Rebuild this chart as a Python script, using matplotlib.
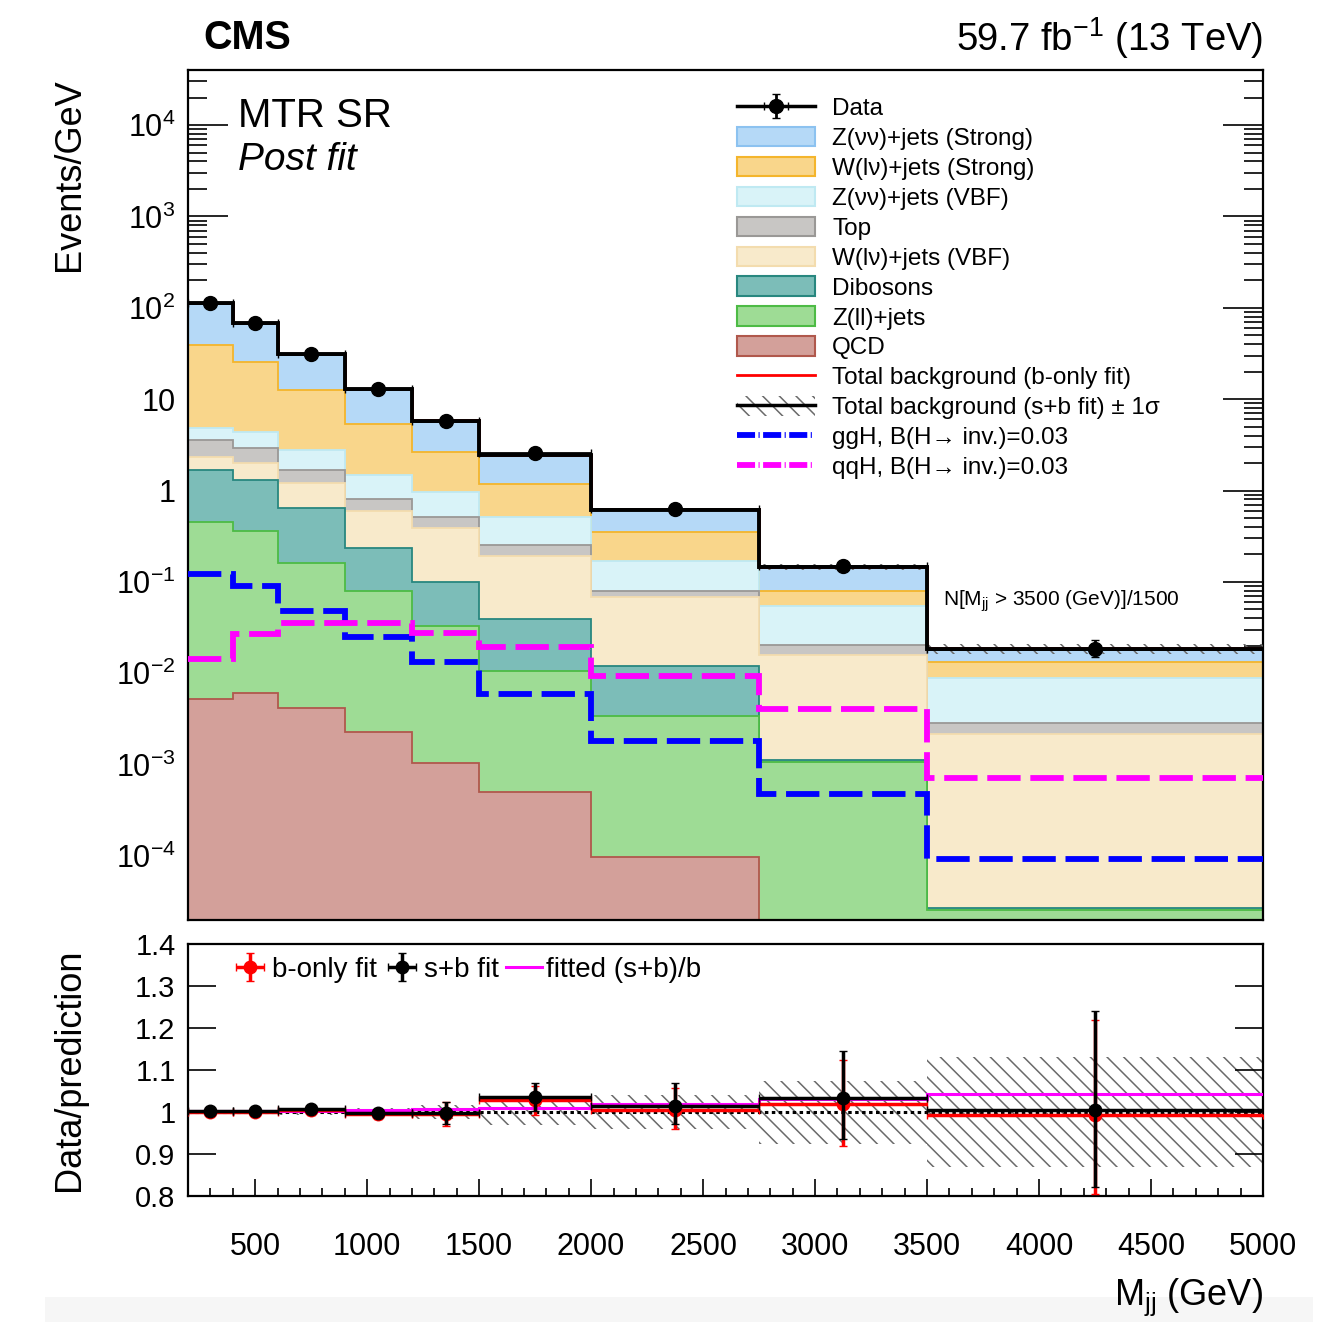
import numpy as np
import matplotlib
matplotlib.use('Agg')
import matplotlib.pyplot as plt
from matplotlib.patches import Patch, Rectangle
from matplotlib.lines import Line2D
from matplotlib.ticker import LogLocator, FuncFormatter, MultipleLocator, NullFormatter

plt.rcParams['font.family'] = ['Liberation Sans', 'DejaVu Sans']
plt.rcParams['mathtext.fontset'] = 'custom'
plt.rcParams['mathtext.rm'] = 'Liberation Sans'
plt.rcParams['mathtext.it'] = 'Liberation Sans:italic'
plt.rcParams['mathtext.bf'] = 'Liberation Sans:bold'
plt.rcParams['lines.scale_dashes'] = False
plt.rcParams['hatch.linewidth'] = 1.1

# ---------------- data ----------------
edges = np.array([200, 400, 600, 900, 1200, 1500, 2000, 2750, 3500, 5000])

# per-process post-fit yields (Events/GeV), stack order bottom -> top
qcd  = [0.0053, 0.0061, 0.0042, 0.0023, 0.00105, 0.0005, 0.000097, 0.0, 0.0]
zll  = [0.453, 0.359, 0.158, 0.0767, 0.0323, 0.0100, 0.00335, 0.00108, 0.000026]
dib  = [1.20, 0.935, 0.478, 0.155, 0.0657, 0.029, 0.00845, 0.00004, 0.000001]
wvbf = [0.70, 0.71, 0.57, 0.36, 0.291, 0.1515, 0.0573, 0.0148, 0.00215]
top  = [1.24, 0.89, 0.49, 0.206, 0.12, 0.064, 0.0113, 0.0046, 0.00069]
zvbf = [1.20, 1.45, 1.09, 0.68, 0.45, 0.265, 0.0905, 0.0337, 0.00606]
wstr = [34.5, 20.95, 9.81, 3.89, 1.66, 0.66, 0.179, 0.0263, 0.00453]
zstr = [72.7, 42.4, 18.7, 7.53, 3.21, 1.28, 0.27, 0.0645, 0.00508]

data = [112.2, 67.8, 31.5, 12.87, 5.82, 2.55, 0.629, 0.150, 0.0186]

ggh = [0.122, 0.091, 0.0487, 0.0248, 0.01324, 0.00596, 0.00181, 0.00048, 0.000093]
qqh = [0.0144, 0.027, 0.0353, 0.0353, 0.0275, 0.0193, 0.0093, 0.00409, 0.00071]

# ratio panel
ratio_sb    = [1.002, 1.002, 1.007, 0.998, 0.998, 1.035, 1.015, 1.033, 1.005]
ratio_sb_lo = [0.007, 0.008, 0.009, 0.010, 0.027, 0.033, 0.044, 0.098, 0.183]
ratio_sb_hi = [0.007, 0.008, 0.009, 0.010, 0.027, 0.033, 0.053, 0.112, 0.236]
ratio_b     = [0.999, 1.000, 1.004, 0.995, 0.995, 1.028, 1.005, 1.019, 0.993]
ratio_b_lo  = [0.008, 0.009, 0.010, 0.011, 0.028, 0.034, 0.045, 0.100, 0.188]
ratio_b_hi  = [0.008, 0.009, 0.010, 0.011, 0.028, 0.034, 0.052, 0.105, 0.226]
fitted_sb_over_b = [1.0012, 1.0018, 1.0027, 1.0047, 1.007, 1.010, 1.018, 1.031, 1.043]
unc_sb = [0.005, 0.005, 0.008, 0.010, 0.016, 0.030, 0.040, 0.075, 0.130]

# ---------------- figure ----------------
W, H = 1342, 1322
fig = plt.figure(figsize=(W / 100, H / 100), dpi=100)

def fx(px):
    return px / W

def fy(py):
    return 1 - py / H

ax = fig.add_axes([fx(188), fy(920), fx(1263) - fx(188), fy(70) - fy(920)])
axr = fig.add_axes([fx(188), fy(1196), fx(1263) - fx(188), fy(944) - fy(1196)])

fig.patches.append(Rectangle((fx(45), 0), fx(1313) - fx(45), fy(1297), transform=fig.transFigure,
                             facecolor='#f6f6f6', edgecolor='none', zorder=-5))

procs = [
    (qcd,  'QCD',                   '#d3a09a', '#b0584c'),
    (zll,  'Z(ll)+jets',            '#9edc95', '#4dbb45'),
    (dib,  'Dibosons',              '#7cbdb8', '#28877f'),
    (wvbf, 'W(lν)+jets (VBF)',      '#f8eacb', '#f3dcae'),
    (top,  'Top',                   '#c8c6c4', '#9a9896'),
    (zvbf, 'Z(νν)+jets (VBF)',      '#d9f3f8', '#bfe9f2'),
    (wstr, 'W(lν)+jets (Strong)',   '#f9d68b', '#f4b52c'),
    (zstr, 'Z(νν)+jets (Strong)',   '#b5d9f7', '#8cc2f0'),
]

cum = np.cumsum(np.array([p[0] for p in procs]), axis=0)
total = cum[-1]

# ROOT-like stack: draw from top cumulative to bottom, each filled from zero
for i in range(len(procs) - 1, -1, -1):
    _, lab, fc, ec = procs[i]
    ax.stairs(cum[i], edges, baseline=0, fill=True, facecolor=fc, edgecolor=ec, lw=1.3, zorder=2)

unc = np.array(unc_sb)
ax.stairs(total * (1 + unc), edges, baseline=total * (1 - unc), fill=True, facecolor='none',
          edgecolor='#6a6a6a', lw=0, hatch='\\\\', zorder=3)

data_arr = np.array(data)
btot = data_arr / np.array(ratio_b)
ax.stairs(btot, edges, baseline=None, color='red', lw=2.0, zorder=4)
ax.stairs(total, edges, baseline=None, color='black', lw=2.8, zorder=5)

dash = (0, (24, 7))
ax.stairs(ggh, edges, baseline=None, color='#0000ff', lw=4.2, linestyle=dash, zorder=6)
ax.stairs(qqh, edges, baseline=None, color='#ff00ff', lw=4.2, linestyle=dash, zorder=6)

centers = 0.5 * (edges[:-1] + edges[1:])
halfw = 0.5 * np.diff(edges)
rel_lo = np.array(ratio_sb_lo) / np.array(ratio_sb)
rel_hi = np.array(ratio_sb_hi) / np.array(ratio_sb)
data_eb = ax.errorbar(centers, data_arr, yerr=[data_arr * rel_lo, data_arr * rel_hi], xerr=halfw,
                      fmt='o', color='black', ms=10, lw=2, capsize=3, zorder=7)

ax.set_yscale('log')
ax.set_xlim(200, 5000)
ax.set_ylim(2e-5, 4e4)

def logfmt(v, pos):
    e = int(round(np.log10(v)))
    if e == 0:
        return '1'
    if e == 1:
        return '10'
    return r'$10^{%d}$' % e

ax.yaxis.set_major_locator(LogLocator(base=10, numticks=30))
ax.yaxis.set_minor_locator(LogLocator(base=10, subs=np.arange(2, 10), numticks=30))
ax.yaxis.set_major_formatter(FuncFormatter(logfmt))
ax.yaxis.set_minor_formatter(NullFormatter())
ax.xaxis.set_major_locator(MultipleLocator(500))
ax.xaxis.set_minor_locator(MultipleLocator(100))
ax.tick_params(axis='y', which='major', direction='in', length=29, width=1.2, right=True,
               labelsize=22, pad=9)
ax.tick_params(axis='y', which='minor', direction='in', length=14, width=1.2, right=True)
ax.tick_params(axis='x', which='major', direction='in', length=15, width=1.2, labelbottom=False)
ax.tick_params(axis='x', which='minor', direction='in', length=7, width=1.2)
for s in ax.spines.values():
    s.set_linewidth(1.6)

# legend
h_patches = [Patch(facecolor=p[2], edgecolor=p[3], lw=1.5) for p in procs[::-1]]
l_patches = [p[1] for p in procs[::-1]]
h_data = (Line2D([], [], color='black', lw=2.5), data_eb)
h_red = Line2D([], [], color='red', lw=2.0)
h_sb = (Patch(facecolor='none', edgecolor='#6a6a6a', lw=0, hatch='\\\\'), Line2D([], [], color='black', lw=2.5))
h_ggh = Line2D([], [], color='#0000ff', lw=4.2, linestyle=(0, (13, 2.5, 0.8, 2.5)))
h_qqh = Line2D([], [], color='#ff00ff', lw=4.2, linestyle=(0, (13, 2.5, 0.8, 2.5)))
handles = [h_data] + h_patches + [h_red, h_sb, h_ggh, h_qqh]
labels = ['Data'] + l_patches + ['Total background (b-only fit)', 'Total background (s+b fit) ± 1σ',
                                 'ggH, B(H→ inv.)=0.03', 'qqH, B(H→ inv.)=0.03']
ax.legend(handles, labels, loc='upper left', bbox_to_anchor=(fx(737), fy(97)), bbox_transform=fig.transFigure,
          frameon=False, fontsize=17.5, handlelength=3.2, handleheight=0.85, handletextpad=0.72,
          labelspacing=0.28, borderpad=0, borderaxespad=0)

# ---------------- ratio panel ----------------
axr.stairs(1 + unc, edges, baseline=1 - unc, fill=True, facecolor='none', edgecolor='#6a6a6a', lw=0,
           hatch='\\\\', zorder=1)
axr.axhline(1.0, color='black', ls=(0, (2.5, 2.5)), lw=2.2, zorder=2)
axr.stairs(fitted_sb_over_b, edges, baseline=None, color='#ff00ff', lw=2.2, zorder=3)
eb_b = axr.errorbar(centers, ratio_b, yerr=[ratio_b_lo, ratio_b_hi], xerr=halfw, fmt='o', color='red',
                    ms=9, lw=2.5, capsize=3, zorder=4)
eb_sb = axr.errorbar(centers, ratio_sb, yerr=[ratio_sb_lo, ratio_sb_hi], xerr=halfw, fmt='o', color='black',
                     ms=9, lw=2.5, capsize=3, zorder=5)
axr.set_xlim(200, 5000)
axr.set_ylim(0.8, 1.4)
axr.yaxis.set_major_locator(MultipleLocator(0.1))
axr.yaxis.set_major_formatter(FuncFormatter(lambda v, p: '%g' % round(v, 2)))
axr.xaxis.set_major_locator(MultipleLocator(500))
axr.xaxis.set_minor_locator(MultipleLocator(100))
axr.tick_params(axis='y', which='major', direction='in', length=20, width=1.2, right=True, labelsize=21, pad=9)
axr.tick_params(axis='x', which='major', direction='in', length=12, width=1.2, labelsize=22, pad=26)
axr.tick_params(axis='x', which='minor', direction='in', length=6, width=1.2)
for s in axr.spines.values():
    s.set_linewidth(1.6)

h_fit_leg = Line2D([], [], color='#ff00ff', lw=2.2)
axr.legend([eb_b, eb_sb, h_fit_leg], ['b-only fit', 's+b fit', 'fitted (s+b)/b'], loc='upper left',
           bbox_to_anchor=(fx(232), fy(957)), bbox_transform=fig.transFigure, ncol=3, frameon=False,
           fontsize=20, handlelength=1.3, handletextpad=0.15, columnspacing=0.25, borderpad=0, borderaxespad=0)

# ---------------- texts ----------------
fig.text(fx(203), fy(38), 'CMS', weight='bold', fontsize=28.5, va='center', ha='left')
fig.text(fx(1263), fy(38), r'59.7 fb$^{\mathregular{-1}}$ (13 TeV)', fontsize=27.5, va='center', ha='right')
fig.text(fx(238), fy(116), 'MTR SR', fontsize=29, va='center', ha='left')
fig.text(fx(238), fy(160), 'Post fit', fontsize=28, style='italic', va='center', ha='left')
fig.text(fx(943), fy(601), r'N[M$_{\mathregular{jj}}$ > 3500 (GeV)]/1500', fontsize=15, va='center', ha='left')
fig.text(fx(70), fy(78), 'Events/GeV', rotation=90, fontsize=26, va='top', ha='center')
fig.text(fx(70), fy(1070), 'Data/prediction', rotation=90, fontsize=26, va='center', ha='center')
fig.text(fx(1263), fy(1297), r'M$_{\mathregular{jj}}$ (GeV)', fontsize=26, va='center', ha='right')

fig.savefig('out.png', dpi=100)
